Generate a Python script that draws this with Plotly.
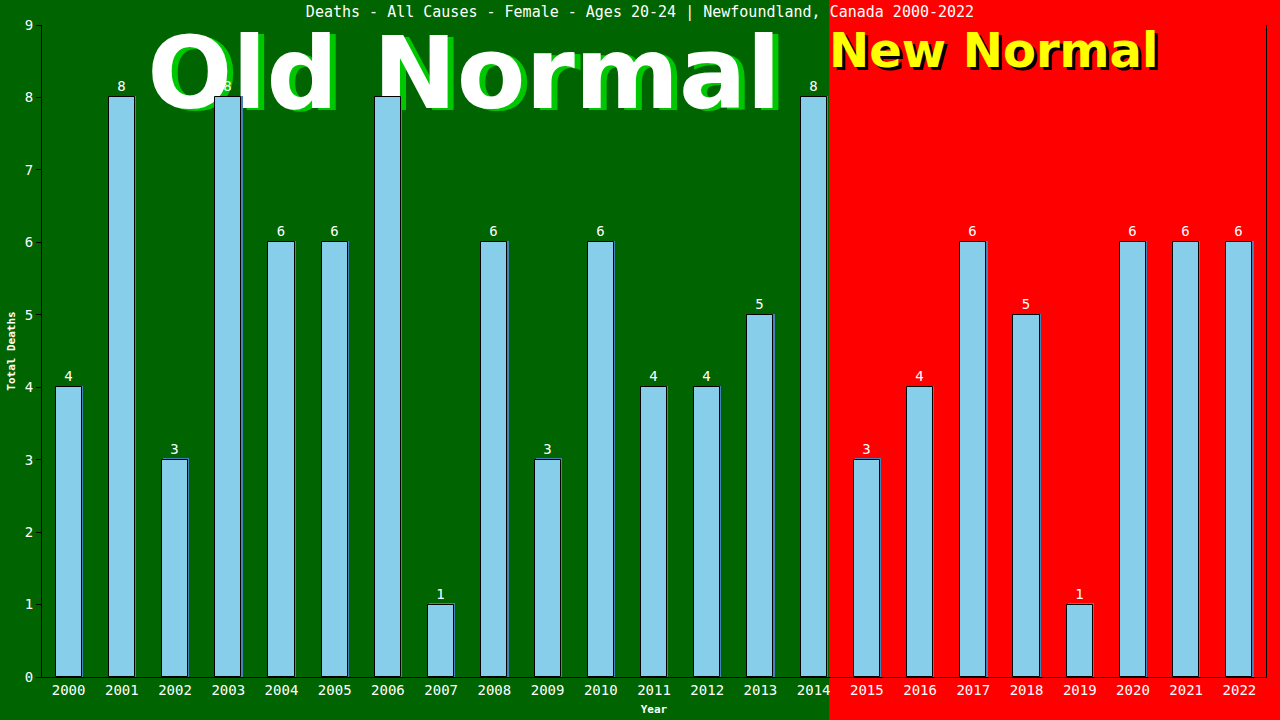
import plotly.graph_objects as go

# Annual female deaths, ages 20-24, Newfoundland
years = [2000, 2001, 2002, 2003, 2004, 2005, 2006, 2007, 2008, 2009, 2010, 2011,
         2012, 2013, 2014, 2015, 2016, 2017, 2018, 2019, 2020, 2021, 2022]
deaths = [4, 8, 3, 8, 6, 6, 8, 1, 6, 3, 6, 4, 4, 5, 8, 3, 4, 6, 5, 1, 6, 6, 6]
y_ticks = list(range(0, 10))

TITLE = "Deaths - All Causes - Female - Ages 20-24 | Newfoundland, Canada 2000-2022"
GREEN = "#006400"
RED = "#ff0000"
BAR = "#87ceeb"
MONO = "DejaVu Sans Mono"

W, H = 1280, 720
ML, MR, MT, MB = 42, 14, 25, 43
PW, PH = W - ML - MR, H - MT - MB
X_RANGE = [years[0] - 0.5, years[-1] + 0.5]
Y_RANGE = [0, 9]


def px_to_x(px):
    return X_RANGE[0] + (px - ML) / PW * (X_RANGE[1] - X_RANGE[0])


def px_to_y(py):
    return Y_RANGE[0] + (H - MB - py) / PH * (Y_RANGE[1] - Y_RANGE[0])


def data_x(x):
    return (x - X_RANGE[0]) / (X_RANGE[1] - X_RANGE[0])


DX = (X_RANGE[1] - X_RANGE[0]) / PW   # data units per pixel
DY = (Y_RANGE[1] - Y_RANGE[0]) / PH

fig = go.Figure()


def banner(text, cx, cy, size, color, shadow, sdx, sdy, pos):
    """Big label with a drop shadow, drawn on the base axes (beneath the bars)."""
    for col, ox, oy in ((shadow, sdx, sdy), (color, 0, 0)):
        fig.add_trace(go.Scatter(
            x=[px_to_x(cx + ox)], y=[px_to_y(cy + oy)], mode="text", text=[text],
            textposition=pos, cliponaxis=False, hoverinfo="skip", showlegend=False,
            textfont=dict(family="DejaVu Sans", size=size, color=col, weight="bold"),
        ))


banner("Old Normal", 464, 83, 100, "white", "#00c800", 6, 2, "middle center")
banner("New Normal", 829, 55, 48, "yellow", "black", 3, 3, "middle right")

# offset shadow behind each bar (overlay axes, above the banners)
fig.add_trace(go.Bar(
    x=[y + 1.2 * DX for y in years], y=[d + 1.2 * DY for d in deaths],
    width=0.49, marker=dict(color="#4682b4", line=dict(width=0)),
    hoverinfo="skip", showlegend=False, xaxis="x2", yaxis="y2",
))
fig.add_trace(go.Bar(
    x=years, y=deaths, width=0.49,
    marker=dict(color=BAR, line=dict(color="black", width=1)),
    text=[str(d) for d in deaths], textposition="outside", cliponaxis=False,
    textfont=dict(family=MONO, size=14, color="white"),
    showlegend=False, xaxis="x2", yaxis="y2",
))

# red "New Normal" backdrop starting just after 2014
split = data_x(2014.29)
fig.add_shape(type="rect", xref="paper", yref="paper",
              x0=split, x1=(W + 5 - ML) / PW, y0=(H - MB - H - 5) / PH, y1=(H - MB + 5) / PH,
              fillcolor=RED, line=dict(width=0), layer="below")

fig.update_layout(
    width=W, height=H,
    margin=dict(l=ML, r=MR, t=MT, b=MB, pad=0, autoexpand=False),
    paper_bgcolor=GREEN, plot_bgcolor="rgba(0,0,0,0)",
    barmode="overlay", bargap=0,
    title=dict(text=TITLE, x=0.5, xref="container", xanchor="center",
               y=1 - 12 / H, yref="container", yanchor="middle",
               font=dict(family=MONO, size=15, color="white")),
    font=dict(family=MONO, color="white"),
    xaxis=dict(
        range=X_RANGE, tickmode="array", tickvals=years, ticktext=[str(y) for y in years],
        showgrid=False, zeroline=False, showline=True, linecolor="black", linewidth=1,
        ticks="", tickfont=dict(family=MONO, size=14, color="white"), automargin=False,
        title=dict(text="Year", standoff=8,
                   font=dict(family=MONO, size=11, color="white", weight="bold")),
    ),
    yaxis=dict(
        range=Y_RANGE, tickmode="array", tickvals=y_ticks,
        showgrid=False, zeroline=False, showline=True, mirror=True, automargin=False,
        linecolor="black", linewidth=1, ticks="outside", ticklen=5, tickcolor="black",
        tickfont=dict(family=MONO, size=14, color="white"),
        title=dict(text="Total Deaths", standoff=6,
                   font=dict(family=MONO, size=11, color="white", weight="bold")),
    ),
    xaxis2=dict(overlaying="x", range=X_RANGE, visible=False),
    yaxis2=dict(overlaying="y", range=Y_RANGE, visible=False),
)

fig.write_html("out.html")
